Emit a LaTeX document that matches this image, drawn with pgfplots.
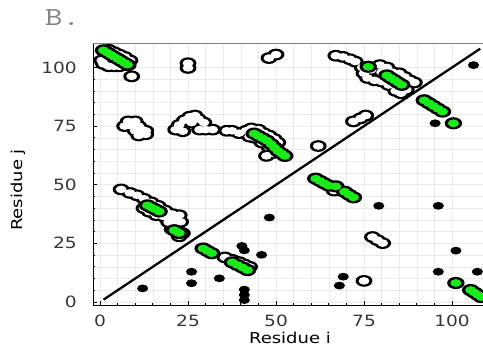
\documentclass[border=0pt]{standalone}
\usepackage{fontspec}
\setmainfont{DejaVu Sans}[FakeStretch=1.2]
\newfontfamily\titlefont{Latin Modern Mono}[FakeStretch=1.3]
\usepackage{pgfplots}
\usepackage{pgfplotstable}
\pgfplotsset{compat=1.18}
\definecolor{cgreen}{RGB}{25,235,25}
\definecolor{gridc}{RGB}{234,234,234}
\definecolor{tickc}{RGB}{55,55,55}
\pgfdeclareplotmark{ell}{\pgfpathellipse{\pgfpointorigin}{\pgfqpoint{1.43\pgfplotmarksize}{0pt}}{\pgfqpoint{0pt}{\pgfplotmarksize}}\pgfusepathqfill}

\pgfplotstableread{
x y
2.5 107.5
4 106.5
5.5 105.5
7 104.5
8.5 103
0.5 103
1 101.5
2.5 100.5
4 100.5
5.5 100.5
6.5 101
8 101
9 96.2
25 101.8
25 99.8
48 104
50 105.5
67 105
69 104.5
71 103.5
72.5 102.5
8 77
10 77
7 75
9 75
11 75
10 73
12 73.5
13 73
11 71
13 71.5
21.5 73.5
23.5 72.8
22.5 75.5
24 77.5
25.5 79
27 79.5
28 78
29.5 76.5
26 76.5
28.3 73.5
30 73.5
32 73.5
36 73
37.5 73
39.5 72
41.5 73
43 74
45 73.5
46.5 72
48 71
49.5 69.5
50.5 68
42.5 70.5
44 70
46 68
48 66
50 64.5
47.3 62.3
49 63.5
62 66.5
72 77
74 78.3
75.5 79.5
74.5 100
75 97.5
76 95.5
78 94.5
80 94
79.5 101
81.5 100
80 98
83 98
85 97.5
86.5 96
88 94.5
89.3 93.6
84 90
85.5 89
87 90.5
82 92.5
77 99
35.5 19
37.5 18
39.5 17
41 16
42.5 15
75 9
77.4 27.7
78.8 26.4
80.3 25.1
66.5 47.5
6 48
8.5 46.5
10.5 45.5
12.5 44
14.5 42.5
16.5 41
18.5 39
20.5 37.5
22.5 37
22.9 34.2
14 38.5
16 37
18 36.5
20 35.5
21 33
20.5 31
22 30.5
23.4 29.3
22.5 28
19 38
17.5 39.5
21.5 35.5
19.5 34
12.5 40
}\whitepts

\pgfplotstableread{
x y
1 107.3
2 106.4
3 105.5
4 104.6
5 103.7
6 102.8
7 101.9
7.8 101.2
13.5 41.2
14.6 40.3
15.7 39.5
16.8 38.6
21.1 30.6
21.8 30
22.5 29.4
29.3 22.8
30.5 21.8
31.7 20.8
37.6 16.9
39 15.8
40.5 14.7
41.9 13.6
43.8 71.8
45 70.8
46.2 69.8
47.4 68.8
48.6 67.3
49.6 65.8
50.6 64.3
51.6 63.3
52.5 62.3
61.3 52.6
62.5 51.6
63.7 50.6
65 49.6
67 49.3
69.5 47
70.7 45.8
72 44.6
76.2 100.3
81.5 96.6
82.5 95.6
83.6 94.6
84.6 93.6
85.7 92.6
92.1 86
93.4 84.8
94.7 83.6
96 82.4
97.3 81.2
100.4 76.2
101.1 8.1
105.3 5.1
106.3 4.1
107.3 3.1
108.3 2.1
109.3 1.1
110 0.4
}\greenpts

\pgfplotstableread{
x y
12.1 5.8
26 12.9
26 8
33.9 10.1
40.3 23.9
41 22
41 5.3
41 3
41 0.8
45.9 20.1
48.1 36
68 7
69.1 10.8
79.2 41
96.1 41
101.1 21.9
96.1 12.9
107.2 12.9
95.2 76.2
106.1 101
}\blackpts

\begin{document}
\begin{tikzpicture}
\useasboundingbox (0,0) rectangle (483pt,351pt);
\node[anchor=base west, inner sep=0, text=gray, font=\titlefont\fontsize{26}{26}\selectfont] at (45pt,325pt) {B.};
\begin{axis}[
  at={(93pt,45.7pt)}, anchor=south west, scale only axis,
  width=390pt, height=262pt,
  xmin=-1.99, xmax=108.8, ymin=-1.41, ymax=110.3,
  axis x line*=bottom, axis y line*=left,
  axis line style={-, black, line width=0.9pt},
  xtick={0,25,50,75,100}, ytick={0,25,50,75,100},
  minor tick num=4,
  grid=both,
  major grid style={gridc, line width=0.6pt},
  minor grid style={gridc, line width=0.6pt},
  major tick length=4pt, minor tick length=2.5pt,
  tick style={black, line width=0.8pt},
  tick align=inside,
  ticklabel style={font=\fontsize{15.5}{15.5}\selectfont, text=tickc, inner sep=0pt},
  xticklabel style={anchor=north, yshift=-9.7pt},
  yticklabel style={anchor=east, xshift=-16pt},
  /pgf/number format/assume math mode=true,
  xlabel={Residue i}, ylabel={Residue j},
  label style={font=\fontsize{15}{15}\selectfont, inner sep=0pt},
  xlabel style={at={(axis description cs:0.505,-0.144)}, anchor=base},
  ylabel style={at={(axis description cs:-0.192,0.44)}, anchor=center},
  clip marker paths=true,
]
% white blobs: black underlay then white fill
\addplot[only marks, mark=ell, mark size=5.9pt, mark options={fill=black}] table[x=x,y=y] {\whitepts};
\addplot[only marks, mark=ell, mark size=3.8pt, mark options={fill=white}] table[x=x,y=y] {\whitepts};
% green blobs
\addplot[only marks, mark=ell, mark size=6.1pt, mark options={fill=black}] table[x=x,y=y] {\greenpts};
\addplot[only marks, mark=ell, mark size=3.9pt, mark options={fill=cgreen}] table[x=x,y=y] {\greenpts};
% diagonal
\addplot[black, line width=2.3pt] coordinates {(1,1) (108,108)};
% black dots
\addplot[only marks, mark=ell, mark size=3.9pt, mark options={fill=black}] table[x=x,y=y] {\blackpts};
\draw[gray, line width=0.8pt] (rel axis cs:0,1) -- (rel axis cs:1,1);
\end{axis}
\end{tikzpicture}
\end{document}
